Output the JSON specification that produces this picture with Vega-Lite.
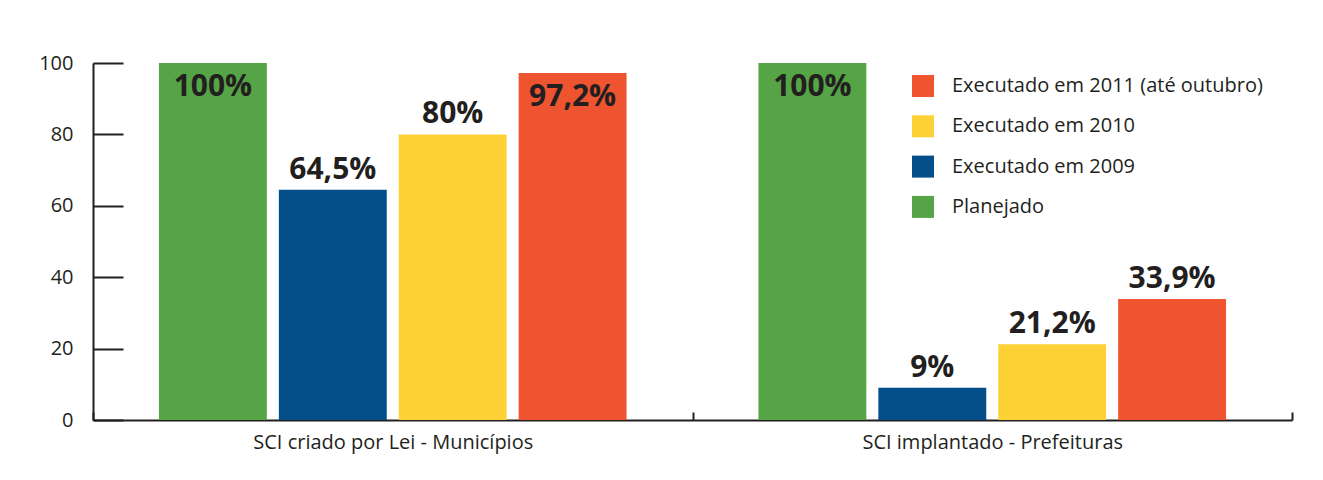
{
  "$schema": "https://vega.github.io/schema/vega-lite/v6.json",
  "width": 1199,
  "height": 357,
  "autosize": {"type": "none"},
  "padding": {"left": 93, "top": 63, "right": 31, "bottom": 60},
  "background": "white",
  "config": {
    "view": {"stroke": null},
    "font": "Open Sans",
    "axis": {"domainColor": "#231F20", "tickColor": "#231F20", "labelColor": "#231F20", "labelFont": "Open Sans", "labelFontSize": 20, "grid": false, "title": null}
  },
  "data": {
    "values": [
      {"grupo": "SCI criado por Lei - Municípios", "serie": "Planejado", "valor": 100, "rotulo": "100%"},
      {"grupo": "SCI criado por Lei - Municípios", "serie": "Executado em 2009", "valor": 64.5, "rotulo": "64,5%"},
      {"grupo": "SCI criado por Lei - Municípios", "serie": "Executado em 2010", "valor": 80, "rotulo": "80%"},
      {"grupo": "SCI criado por Lei - Municípios", "serie": "Executado em 2011 (até outubro)", "valor": 97.2, "rotulo": "97,2%"},
      {"grupo": "SCI implantado - Prefeituras", "serie": "Planejado", "valor": 100, "rotulo": "100%"},
      {"grupo": "SCI implantado - Prefeituras", "serie": "Executado em 2009", "valor": 9, "rotulo": "9%"},
      {"grupo": "SCI implantado - Prefeituras", "serie": "Executado em 2010", "valor": 21.2, "rotulo": "21,2%"},
      {"grupo": "SCI implantado - Prefeituras", "serie": "Executado em 2011 (até outubro)", "valor": 33.9, "rotulo": "33,9%"}
    ]
  },
  "encoding": {
    "x": {
      "field": "grupo", "type": "nominal", "title": null,
      "scale": {"paddingInner": 0, "paddingOuter": 0},
      "axis": {"labelAngle": 0, "domainWidth": 2, "tickWidth": 2, "tickSize": -8, "tickBand": "extent", "labelPadding": 20, "labelFontSize": 20, "labelLimit": 500}
    },
    "xOffset": {
      "field": "serie", "type": "nominal",
      "sort": ["Planejado", "Executado em 2009", "Executado em 2010", "Executado em 2011 (até outubro)"],
      "scale": {"paddingInner": 0.1, "paddingOuter": 0.55}
    },
    "y": {
      "field": "valor", "type": "quantitative", "title": null,
      "scale": {"domain": [0, 100], "nice": false},
      "axis": {"values": [0, 20, 40, 60, 80, 100], "domainWidth": 2, "tickWidth": 2, "tickSize": -30, "labelPadding": 50, "labelFontSize": 20}
    }
  },
  "layer": [
    {
      "mark": {"type": "bar"},
      "encoding": {
        "color": {
          "field": "serie", "type": "nominal",
          "scale": {
            "domain": ["Planejado", "Executado em 2009", "Executado em 2010", "Executado em 2011 (até outubro)"],
            "range": ["#55A445", "#044E8A", "#FED136", "#EF5430"]
          },
          "legend": {
            "title": null,
            "orient": "none",
            "legendX": 819,
            "legendY": 12,
            "padding": 0,
            "values": ["Executado em 2011 (até outubro)", "Executado em 2010", "Executado em 2009", "Planejado"],
            "symbolType": "square",
            "symbolSize": 484,
            "symbolStrokeWidth": 0,
            "symbolOpacity": 1,
            "rowPadding": 18.3,
            "labelOffset": 18,
            "labelFontSize": 20,
            "labelFont": "Open Sans",
            "labelColor": "#231F20",
            "labelLimit": 400
          }
        }
      }
    },
    {
      "transform": [{"filter": "datum.valor >= 95"}],
      "mark": {"type": "text", "baseline": "top", "dy": 9, "fontSize": 30, "fontWeight": "bold", "font": "Open Sans", "color": "#231F20"},
      "encoding": {"text": {"field": "rotulo"}}
    },
    {
      "transform": [{"filter": "datum.valor < 95"}],
      "mark": {"type": "text", "baseline": "alphabetic", "dy": -11, "fontSize": 30, "fontWeight": "bold", "font": "Open Sans", "color": "#231F20"},
      "encoding": {"text": {"field": "rotulo"}}
    }
  ]
}
